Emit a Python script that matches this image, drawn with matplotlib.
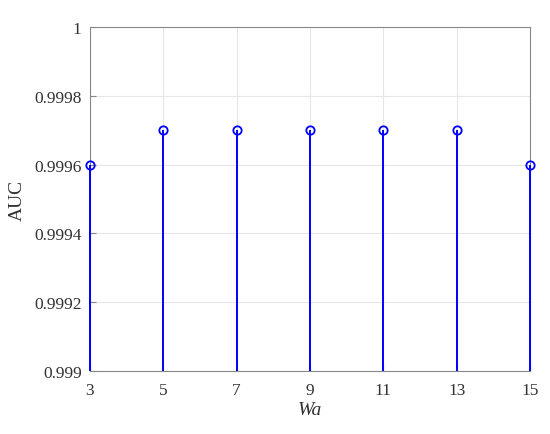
import matplotlib
matplotlib.use('Agg')
import matplotlib.pyplot as plt

# window size Wa vs AUC
wa = [3, 5, 7, 9, 11, 13, 15]
auc = [0.9996, 0.9997, 0.9997, 0.9997, 0.9997, 0.9997, 0.9996]
yticks = [0.999, 0.9992, 0.9994, 0.9996, 0.9998, 1.0]
ytick_labels = ['0.999', '0.9992', '0.9994', '0.9996', '0.9998', '1']

plt.rcParams['font.family'] = ['Liberation Serif', 'DejaVu Serif']

fig = plt.figure(figsize=(5.5, 4.35), dpi=100)
ax = fig.add_axes([0.1636, 0.145, 0.8, 0.79])

blue = '#0000ff'
ax.vlines(wa, 0.999, auc, color=blue, linewidth=1.4, zorder=3, clip_on=False)
ax.plot(wa, auc, 'o', markersize=6, markerfacecolor='none',
        markeredgecolor=blue, markeredgewidth=1.3, zorder=4, clip_on=False)

ax.set_xlim(3, 15)
ax.set_ylim(0.999, 1.0)
ax.set_xticks(wa)
ax.set_yticks(yticks)
ax.set_yticklabels(ytick_labels)
ax.grid(True, color='#e6e6e6', linewidth=0.8)
ax.set_axisbelow(True)

for s in ax.spines.values():
    s.set_color('#888888')
    s.set_linewidth(0.8)
    s.set_zorder(2)
ax.tick_params(direction='in', length=4, color='#888888', labelsize=12.5,
               labelcolor='#333333')
ax.tick_params(axis='x', pad=8)
ax.tick_params(axis='y', pad=6)

ax.set_xlabel('Wa', fontsize=14, style='italic', color='#333333', labelpad=2)
ax.set_ylabel('AUC', fontsize=14, color='#333333', labelpad=6)

fig.savefig('out.png', dpi=100)
